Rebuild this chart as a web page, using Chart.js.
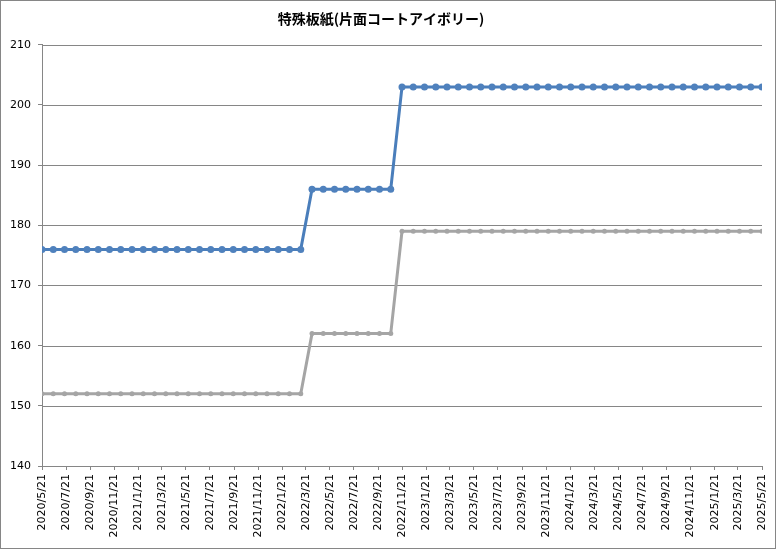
<!DOCTYPE html>
<html>
<head>
<meta charset="utf-8">
<script src="https://cdn.jsdelivr.net/npm/chart.js@4"></script>
<style>
  html, body { margin: 0; padding: 0; background: #fff; }
</style>
</head>
<body>
<canvas id="priceChart" width="776" height="549"></canvas>
<script>
// chart title
const chartTitle = '特殊板紙(片面コートアイボリー)';

// tick labels on the date axis (every 2 months)
const tickLabels = [
  '2020/5/21', '2020/7/21', '2020/9/21', '2020/11/21',
  '2021/1/21', '2021/3/21', '2021/5/21', '2021/7/21', '2021/9/21', '2021/11/21',
  '2022/1/21', '2022/3/21', '2022/5/21', '2022/7/21', '2022/9/21', '2022/11/21',
  '2023/1/21', '2023/3/21', '2023/5/21', '2023/7/21', '2023/9/21', '2023/11/21',
  '2024/1/21', '2024/3/21', '2024/5/21', '2024/7/21', '2024/9/21', '2024/11/21',
  '2025/1/21', '2025/3/21', '2025/5/21'
];

// blue series (65 observations)
const blueValues = [
  176, 176, 176, 176, 176, 176, 176, 176, 176, 176, 176, 176,
  176, 176, 176, 176, 176, 176, 176, 176, 176, 176, 176, 176,
  186, 186, 186, 186, 186, 186, 186, 186,
  203, 203, 203, 203, 203, 203, 203, 203, 203, 203, 203,
  203, 203, 203, 203, 203, 203, 203, 203, 203, 203, 203,
  203, 203, 203, 203, 203, 203, 203, 203, 203, 203, 203
];

// grey series (65 observations)
const greyValues = [
  152, 152, 152, 152, 152, 152, 152, 152, 152, 152, 152, 152,
  152, 152, 152, 152, 152, 152, 152, 152, 152, 152, 152, 152,
  162, 162, 162, 162, 162, 162, 162, 162,
  179, 179, 179, 179, 179, 179, 179, 179, 179, 179, 179,
  179, 179, 179, 179, 179, 179, 179, 179, 179, 179, 179,
  179, 179, 179, 179, 179, 179, 179, 179, 179, 179, 179
];

// y axis range
const yMin = 140, yMax = 210, yStep = 10;

// date helpers: days since the first tick
function toDays(label) {
  const [y, m, d] = label.split('/').map(Number);
  return (Date.UTC(y, m - 1, d) - Date.UTC(2020, 4, 21)) / 86400000;
}
const tickDays = tickLabels.map(toDays);
const totalDays = tickDays[tickDays.length - 1];

// observations are spread evenly over the period
function toPoints(values) {
  return values.map((v, i) => ({ x: i * totalDays / (values.length - 1), y: v }));
}

const gridColor = '#868686';

// white background, horizontal gridlines limited to the x range, outer frame
const framePlugin = {
  id: 'frame',
  beforeDraw(chart) {
    const ctx = chart.ctx;
    ctx.save();
    ctx.fillStyle = '#fff';
    ctx.fillRect(0, 0, chart.width, chart.height);
    ctx.restore();
  },
  beforeDatasetsDraw(chart) {
    const { x, y } = chart.scales;
    const ctx = chart.ctx;
    ctx.save();
    ctx.strokeStyle = gridColor;
    ctx.lineWidth = 1;
    y.ticks.forEach(t => {
      const py = Math.round(y.getPixelForValue(t.value)) + 0.5;
      ctx.beginPath();
      ctx.moveTo(x.left, py);
      ctx.lineTo(x.right, py);
      ctx.stroke();
    });
    ctx.restore();
  },
  afterDraw(chart) {
    const ctx = chart.ctx;
    ctx.save();
    ctx.strokeStyle = gridColor;
    ctx.lineWidth = 1;
    ctx.strokeRect(0.5, 0.5, chart.width - 1, chart.height - 1);
    ctx.restore();
  }
};

new Chart(document.getElementById('priceChart'), {
  type: 'line',
  data: {
    datasets: [
      {
        label: 'blue',
        data: toPoints(blueValues),
        borderColor: '#4A7EBB',
        backgroundColor: '#4F81BD',
        borderWidth: 3,
        pointRadius: 3.5,
        pointBorderWidth: 0,
        tension: 0
      },
      {
        label: 'grey',
        data: toPoints(greyValues),
        borderColor: '#A5A5A5',
        backgroundColor: '#A5A5A5',
        borderWidth: 3,
        pointRadius: 2.5,
        pointBorderWidth: 0,
        tension: 0
      }
    ]
  },
  options: {
    responsive: false,
    animation: false,
    devicePixelRatio: 1,
    layout: { padding: { left: 0, right: 14, top: 0, bottom: 0 } },
    plugins: {
      legend: { display: false },
      tooltip: { enabled: false },
      title: {
        display: true,
        text: chartTitle,
        color: '#000',
        font: { family: '"Noto Sans CJK JP", sans-serif', size: 14, weight: 'bold' },
        padding: { top: 10, bottom: 18 }
      }
    },
    scales: {
      x: {
        type: 'linear',
        min: 0,
        max: totalDays,
        afterFit(scale) {
          scale.height = 83;
          scale.paddingLeft = 0;
          scale.paddingRight = 0;
        },
        afterBuildTicks(scale) {
          scale.ticks = tickDays.map(v => ({ value: v }));
        },
        ticks: {
          autoSkip: false,
          minRotation: 90,
          maxRotation: 90,
          padding: 4,
          color: '#000',
          font: { family: '"DejaVu Sans", sans-serif', size: 11 },
          callback(value) {
            const i = tickDays.indexOf(value);
            return i >= 0 ? tickLabels[i] : '';
          }
        },
        grid: {
          drawOnChartArea: false,
          drawTicks: true,
          tickLength: 4,
          color: gridColor
        },
        border: { display: true, color: gridColor }
      },
      y: {
        min: yMin,
        max: yMax,
        afterFit(scale) { scale.width = 42; },
        ticks: {
          stepSize: yStep,
          padding: 7,
          color: '#000',
          font: { family: '"DejaVu Sans", sans-serif', size: 11 }
        },
        grid: {
          drawOnChartArea: false,
          color: gridColor,
          tickLength: 4
        },
        border: { display: true, color: gridColor }
      }
    }
  },
  plugins: [framePlugin]
});
</script>
</body>
</html>
